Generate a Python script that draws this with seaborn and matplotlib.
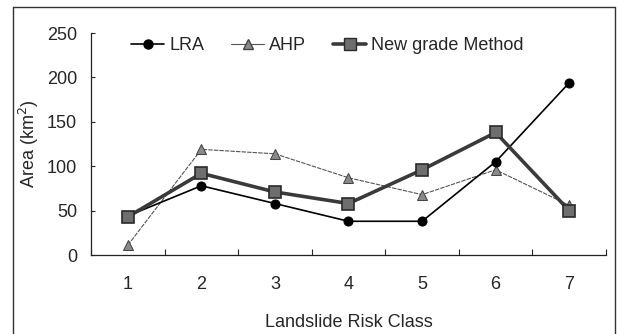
import matplotlib
matplotlib.use("Agg")
import matplotlib.pyplot as plt
import seaborn as sns
import pandas as pd
from matplotlib.lines import Line2D

classes = [1, 2, 3, 4, 5, 6, 7]
lra = [44, 78, 58, 38, 38, 105, 194]
ahp = [11, 119, 114, 87, 68, 96, 56]
new_grade = [43, 92, 71, 58, 96, 138, 50]
y_ticks = [0, 50, 100, 150, 200, 250]
y_tick_labels = ["0", "50", "100", "150", "200", "250"]

sns.set_style("white")
plt.rcParams["font.family"] = ["Liberation Sans", "DejaVu Sans"]

FS = 13
fig = plt.figure(figsize=(6.19, 3.34), dpi=100)
ax = fig.add_axes([0.147, 0.2365, 0.832, 0.6645])

df_lra = pd.DataFrame({"cls": classes, "val": lra})
df_ahp = pd.DataFrame({"cls": classes, "val": ahp})
df_new = pd.DataFrame({"cls": classes, "val": new_grade})

sns.lineplot(data=df_ahp, x="cls", y="val", ax=ax, color="#555555", lw=0.8,
             linestyle=(0, (4, 1)), marker="^", markersize=6.5,
             markerfacecolor="#8a8a8a", markeredgecolor="#444444", zorder=2)
sns.lineplot(data=df_lra, x="cls", y="val", ax=ax, color="black", lw=1.2,
             marker="o", markersize=6.5, markerfacecolor="black",
             markeredgecolor="black", zorder=3)
sns.lineplot(data=df_new, x="cls", y="val", ax=ax, color="#3a3a3a", lw=2.6,
             marker="s", markersize=8, markerfacecolor="#6e6e6e",
             markeredgecolor="#2a2a2a", markeredgewidth=1.2, zorder=4)

ax.set_xlim(0.5, 7.5)
ax.set_ylim(0, 250)
ax.set_yticks(y_ticks)
ax.set_yticklabels(y_tick_labels)
ax.set_xticks(classes)
ax.set_xticks([c + 0.5 for c in [0] + classes], minor=True)
ax.tick_params(axis="x", which="major", length=0, pad=15, labelsize=FS)
ax.tick_params(axis="x", which="minor", direction="in", length=4, width=0.8,
               bottom=True)
ax.tick_params(axis="y", direction="in", length=3, width=0.8, left=True,
               pad=10, labelsize=FS)
for s in ["top", "right"]:
    ax.spines[s].set_visible(False)
for s in ["left", "bottom"]:
    ax.spines[s].set_color("#222222")
    ax.spines[s].set_linewidth(0.9)

ax.set_xlabel("Landslide Risk Class", fontsize=FS, labelpad=15)
ax.set_ylabel("Area (km$^2$)", fontsize=FS, labelpad=4)

handles = [
    Line2D([], [], color="black", lw=1.2, marker="o", markersize=6.5,
           markerfacecolor="black"),
    Line2D([], [], color="#555555", lw=0.8, marker="^", markersize=6.5,
           markerfacecolor="#8a8a8a", markeredgecolor="#444444"),
    Line2D([], [], color="#3a3a3a", lw=2.6, marker="s", markersize=8,
           markerfacecolor="#6e6e6e", markeredgecolor="#2a2a2a"),
]
ax.legend(handles, ["LRA", "AHP", "New grade Method"], ncol=3, frameon=False,
          loc="upper left", bbox_to_anchor=(0.186, 0.937),
          bbox_transform=fig.transFigure, handlelength=1.8,
          handletextpad=0.3, columnspacing=1.5, fontsize=FS)

# outer frame
W, H = 619, 334
fig.add_artist(Line2D([13 / W, 13 / W], [0, 1 - 7 / H], color="#333333",
                      lw=1.0, transform=fig.transFigure))
fig.add_artist(Line2D([13 / W, 615 / W], [1 - 7 / H, 1 - 7 / H],
                      color="#333333", lw=1.0, transform=fig.transFigure))
fig.add_artist(Line2D([615 / W, 615 / W], [0, 1 - 7 / H], color="#333333",
                      lw=1.0, transform=fig.transFigure))

fig.savefig("out.png", dpi=100)
